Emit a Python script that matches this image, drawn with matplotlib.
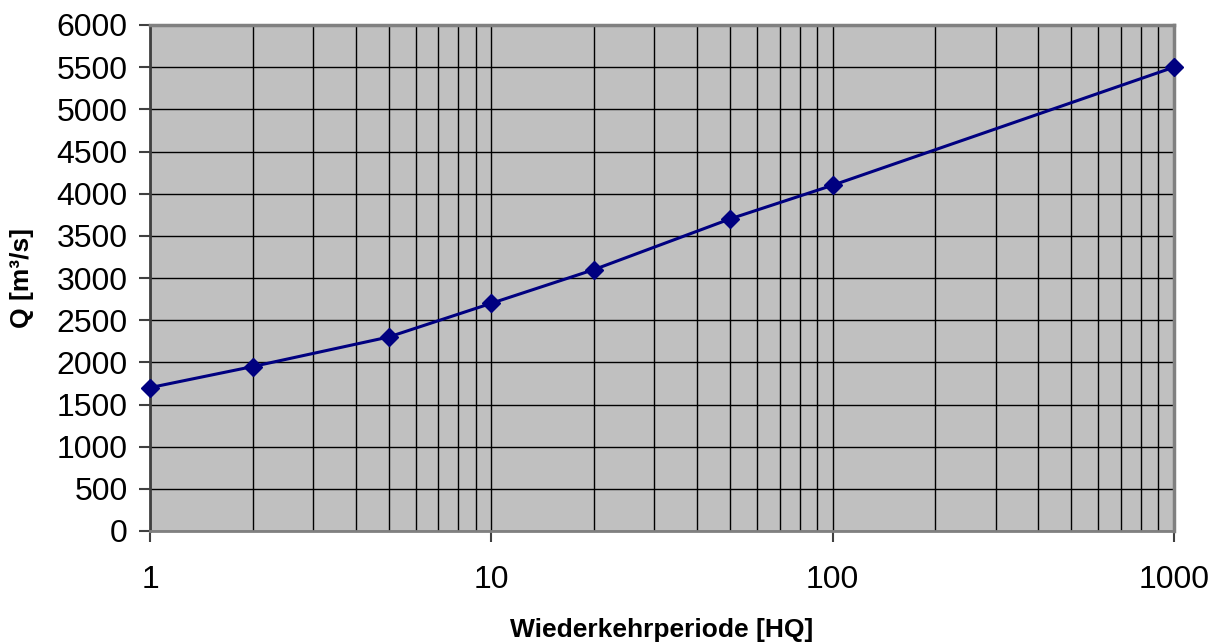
import matplotlib
matplotlib.use("Agg")
import matplotlib.pyplot as plt
from matplotlib.ticker import LogLocator, FixedLocator, NullFormatter

plt.rcParams['font.family'] = ['Liberation Sans', 'DejaVu Sans']

periods = [1, 2, 5, 10, 20, 50, 100, 1000]
discharge = [1700, 1950, 2300, 2700, 3100, 3700, 4100, 5500]
x_ticks = [1, 10, 100, 1000]
x_tick_labels = ["1", "10", "100", "1000"]
y_ticks = list(range(0, 6001, 500))

fig = plt.figure(figsize=(12.2, 6.43), dpi=100)
ax = fig.add_axes([150/1220, 1-531/643, (1174-150)/1220, (531-25)/643])
ax.set_facecolor('#c0c0c0')

ax.plot(periods, discharge, color='#000080', lw=2.2, marker='D', markersize=9,
        zorder=5, clip_on=False)

ax.set_xscale('log')
ax.set_xlim(1, 1000)
ax.set_ylim(0, 6000)
ax.xaxis.set_major_locator(FixedLocator(x_ticks))
ax.set_xticklabels(x_tick_labels)
ax.xaxis.set_minor_locator(LogLocator(base=10, subs=range(2, 10), numticks=20))
ax.xaxis.set_minor_formatter(NullFormatter())
ax.set_yticks(y_ticks)

ax.grid(True, which='major', color='black', lw=1.0)
ax.grid(True, which='minor', axis='x', color='black', lw=1.0)
ax.set_axisbelow(True)

ax.tick_params(axis='both', which='major', labelsize=23, length=8, width=1.5,
               color='#404040', direction='out')
ax.tick_params(axis='x', which='major', pad=16.5)
ax.tick_params(axis='y', which='major', pad=8)
ax.tick_params(axis='x', which='minor', length=0)

for s in ['top', 'right']:
    ax.spines[s].set_color('#808080')
    ax.spines[s].set_linewidth(2.5)
ax.spines['left'].set_color('#404040')
ax.spines['left'].set_linewidth(2)
ax.spines['bottom'].set_color('#808080')
ax.spines['bottom'].set_linewidth(2)

fig.text(662/1220, 1-637/643, 'Wiederkehrperiode [HQ]', fontsize=19,
         fontweight='bold', ha='center', va='baseline')
ax.set_ylabel('Q [m³/s]', fontsize=19, fontweight='bold', labelpad=16)

fig.savefig('out.png', dpi=100, facecolor='white')
